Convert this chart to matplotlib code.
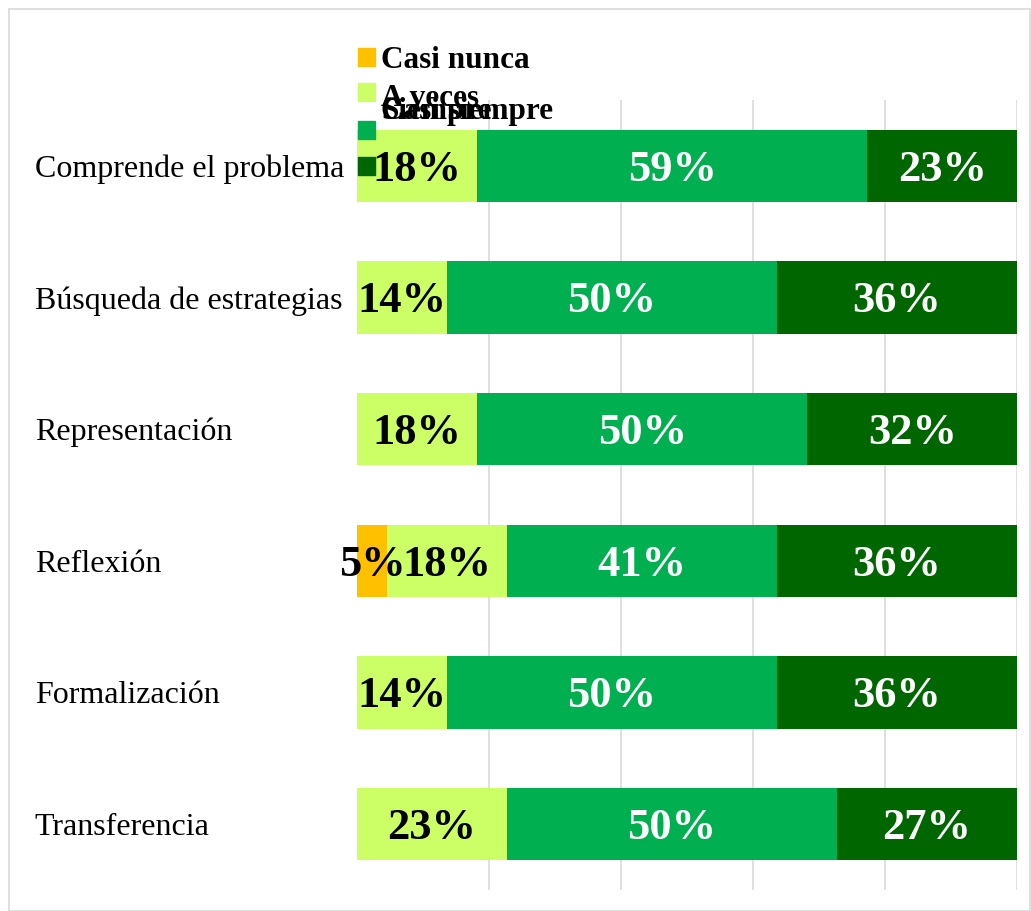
import matplotlib
matplotlib.use("Agg")
from matplotlib import pyplot as plt
from matplotlib.patches import Rectangle

# Datos -------------------------------------------------------------------------
categorias = ["Comprende el problema", "Búsqueda de estrategias", "Representación",
              "Reflexión", "Formalización", "Transferencia"]
series = ["Casi nunca", "A veces", "Casi siempre", "Siempre"]
casi_nunca = [0.0, 0.0, 0.0, 4.5, 0.0, 0.0]
a_veces = [18.2, 13.6, 18.2, 18.2, 13.6, 22.7]
casi_siempre = [59.1, 50.0, 50.0, 40.9, 50.0, 50.0]
siempre = [22.7, 36.4, 31.8, 36.4, 36.4, 27.3]
valores = [casi_nunca, a_veces, casi_siempre, siempre]

colores = ["#FFC000", "#CCFF66", "#00B050", "#006600"]
color_texto = ["black", "black", "white", "white"]

plt.rcParams['font.family'] = ['Liberation Serif', 'DejaVu Serif']

fig = plt.figure(figsize=(10.31, 9.11), dpi=100)
fig.patches.append(Rectangle((0.009, 0.0), 0.99, 0.99, transform=fig.transFigure,
                             fill=False, edgecolor="#D9D9D9", lw=1.2))
ax = fig.add_axes([0.3463, 0.0231, 0.6402, 0.8671])

ys = list(range(len(categorias)))[::-1]
izq = [0.0] * len(categorias)
for vals, col, tcol in zip(valores, colores, color_texto):
    ax.barh(ys, vals, left=izq, height=0.55, color=col, zorder=2)
    for y, v, l in zip(ys, vals, izq):
        if v > 0:
            ax.text(l + v / 2, y - 0.03, f"{int(v + 0.5)}%", ha="center", va="center",
                    color=tcol, fontsize=32, fontweight="bold", zorder=3)
    izq = [a + b for a, b in zip(izq, vals)]

ax.set_xlim(0, 100)
ax.set_ylim(-0.5, 5.5)
ax.set_xticks([20, 40, 60, 80, 100])
ax.set_xticklabels([])
ax.grid(axis="x", color="#D9D9D9", lw=1.2, zorder=0)
ax.set_yticks(ys)
ax.set_yticklabels(categorias, fontsize=23)
for t in ax.get_yticklabels():
    t.set_ha("left")
ax.tick_params(axis="y", length=0, pad=232)
ax.tick_params(axis="x", length=0)
for s in ax.spines.values():
    s.set_visible(False)

# Leyenda (superpuesta como en el original) ----------------------------------
marcas_y = [57, 92, 130, 166]
textos_y = [60, 98, 112, 112]
for nombre, col, my, ty in zip(series, colores, marcas_y, textos_y):
    fig.patches.append(Rectangle((358 / 1031, 1 - (my + 8.5) / 911), 17 / 1031, 17 / 911,
                                 transform=fig.transFigure, color=col, zorder=5))
    fig.text(381 / 1031, 1 - ty / 911, nombre, fontsize=22.5, fontweight="bold",
             va="center", ha="left", zorder=6)

plt.savefig("out.png")
